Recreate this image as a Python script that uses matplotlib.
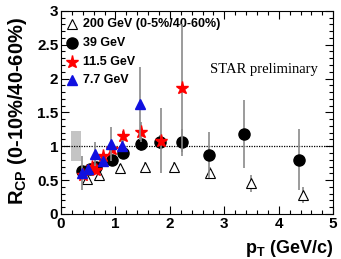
import matplotlib
matplotlib.use("Agg")
import matplotlib.pyplot as plt
from matplotlib.ticker import MultipleLocator

plt.rcParams['font.family'] = ['Liberation Sans', 'DejaVu Sans']
plt.rcParams['mathtext.fontset'] = 'custom'
plt.rcParams['mathtext.rm'] = 'Liberation Sans:bold'
plt.rcParams['mathtext.bf'] = 'Liberation Sans:bold'
plt.rcParams['mathtext.it'] = 'Liberation Sans:bold'

# 200 GeV (0-5%/40-60%)
x200 = [0.47, 0.70, 1.08, 1.54, 2.07, 2.73, 3.49, 4.45]
y200 = [0.51, 0.57, 0.675, 0.70, 0.70, 0.60, 0.45, 0.28]
e200 = [0.05, 0.05, 0.06, 0.06, 0.07, 0.09, 0.12, 0.12]

# 39 GeV
x39 = [0.38, 0.53, 0.64, 0.93, 1.13, 1.47, 1.82, 2.22, 2.71, 3.37, 4.38]
y39 = [0.63, 0.66, 0.69, 0.80, 0.90, 1.03, 1.06, 1.06, 0.87, 1.18, 0.80]
e39 = [0.05, 0.05, 0.05, 0.05, 0.06, 0.10, 0.10, 0.20, 0.34, 0.50, 0.45]

# 11.5 GeV
x11 = [0.41, 0.56, 0.64, 0.77, 0.93, 1.14, 1.47, 1.83, 2.22]
y11 = [0.58, 0.70, 0.65, 0.85, 0.96, 1.15, 1.21, 1.08, 1.86]
e11 = [0.05, 0.05, 0.05, 0.05, 0.06, 0.08, 0.15, 0.48, 0.95]

# 7.7 GeV
x77 = [0.39, 0.50, 0.62, 0.78, 0.91, 1.12, 1.45]
y77 = [0.60, 0.67, 0.89, 0.78, 1.03, 1.01, 1.63]
e77 = [0.25, 0.06, 0.18, 0.06, 0.25, 0.08, 0.54]

# systematic box
box_x = [0.18, 0.37]
box_y = [0.78, 1.22]

xticks = [0, 1, 2, 3, 4, 5]
yticks = [0, 0.5, 1, 1.5, 2, 2.5, 3]
xticklabels = ['0', '1', '2', '3', '4', '5']
yticklabels = ['0', '0.5', '1', '1.5', '2', '2.5', '3']

labels = ["200 GeV (0-5%/40-60%)", "39 GeV", "11.5 GeV", "7.7 GeV"]

fig = plt.figure(figsize=(3.41, 2.59), dpi=100)
ax = fig.add_axes([0.179, 0.174, 0.798, 0.784])

ax.fill_between(box_x, box_y[0], box_y[1], color='#c4c4c4', lw=0, zorder=1)
ax.axhline(1, color='black', ls=(0, (1, 1)), lw=0.9, zorder=2)

ecol = '#8a8a8a'
ax.errorbar(x200, y200, yerr=e200, fmt='^', mfc='white', mec='black', mew=0.8,
            ms=6.5, ecolor=ecol, elinewidth=1.2, capsize=0, zorder=3)
ax.errorbar(x39, y39, yerr=e39, fmt='o', color='black', ms=8,
            ecolor=ecol, elinewidth=1.2, capsize=0, zorder=4)
ax.errorbar(x11, y11, yerr=e11, fmt='*', color='red', ms=9.5,
            ecolor=ecol, elinewidth=1.2, capsize=0, zorder=5)
ax.errorbar(x77, y77, yerr=e77, fmt='^', color='#1010e0', ms=7.5,
            ecolor=ecol, elinewidth=1.2, capsize=0, zorder=6)

# legend (manual)
lx_m, lx_t = 0.040, 0.081
rows = [0.936, 0.840, 0.750, 0.660]
styles = [dict(marker='^', mfc='white', mec='black', mew=0.8, ms=6.5),
          dict(marker='o', color='black', ms=8),
          dict(marker='*', color='red', ms=9.5),
          dict(marker='^', color='#1010e0', ms=7.5)]
for r, st, lab in zip(rows, styles, labels):
    ax.plot([lx_m], [r], transform=ax.transAxes, ls='none', clip_on=False, **st)
    ax.text(lx_t, r, lab, transform=ax.transAxes, fontsize=9,
            fontweight='bold', va='center', ha='left')

ax.text(0.548, 0.71, "STAR preliminary", transform=ax.transAxes,
        fontsize=10.5, family='Liberation Serif', va='center', ha='left')

ax.set_xlim(0, 5)
ax.set_ylim(0, 3)
ax.set_xticks(xticks)
ax.set_xticklabels(xticklabels, fontweight='bold')
ax.set_yticks(yticks)
ax.set_yticklabels(yticklabels, fontweight='bold')
ax.xaxis.set_minor_locator(MultipleLocator(0.2))
ax.yaxis.set_minor_locator(MultipleLocator(0.1))
ax.tick_params(which='both', direction='in', top=True, right=True, width=0.8)
ax.tick_params(which='major', length=6, labelsize=11, pad=2)
ax.tick_params(which='minor', length=3)

fig.text(0.05, 0.57, r"$\mathregular{R_{CP}}$ (0-10%/40-60%)", rotation=90,
         fontsize=14.5, fontweight='bold', ha='center', va='center')
fig.text(0.977, 0.042, r"$\mathregular{p_{T}}$ (GeV/c)", fontsize=13,
         fontweight='bold', ha='right', va='center')

fig.savefig("out.png", dpi=100)
